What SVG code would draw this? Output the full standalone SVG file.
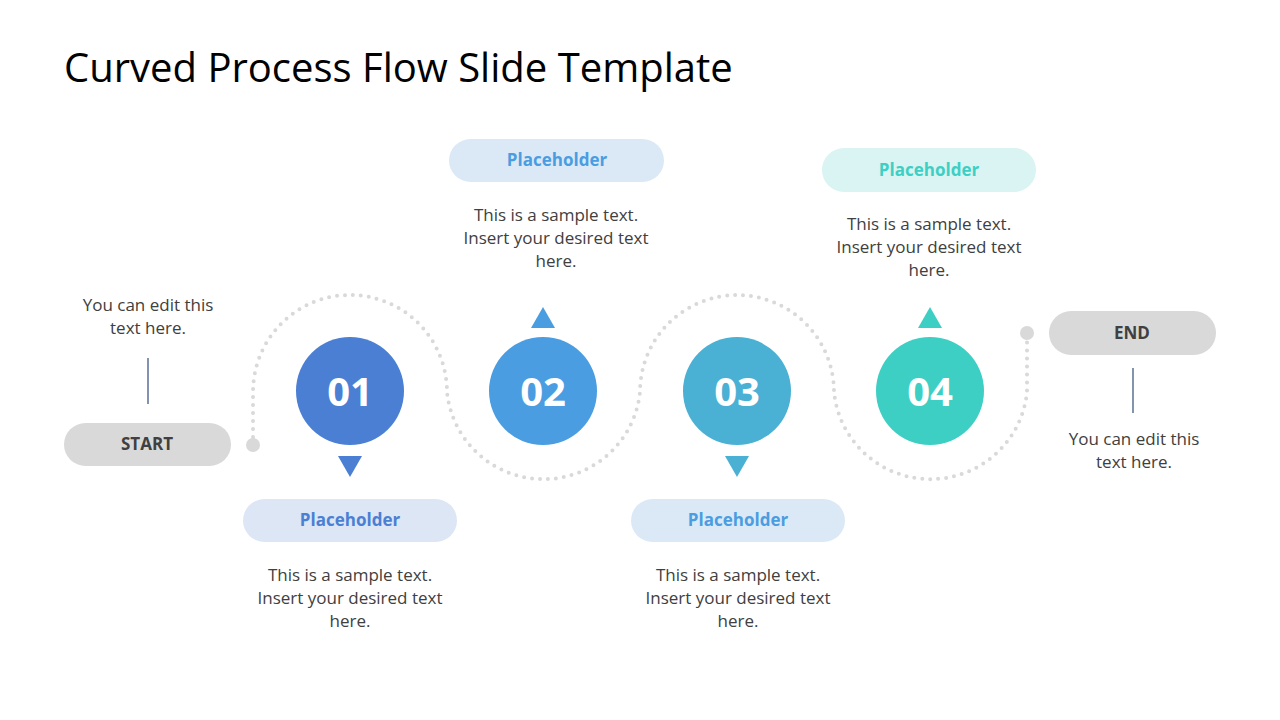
<svg xmlns="http://www.w3.org/2000/svg" width="1280" height="720" viewBox="0 0 1280 720">
<style>
.t{font-family:"Open Sans","Liberation Sans",sans-serif;font-size:17px;fill:#404040;text-anchor:middle}
.ph{font-family:"Open Sans","Liberation Sans",sans-serif;font-size:17px;font-weight:bold;text-anchor:middle}
.num{font-family:"Open Sans","Liberation Sans",sans-serif;font-size:40px;font-weight:bold;fill:#fff;text-anchor:middle}
.se{font-family:"Open Sans","Liberation Sans",sans-serif;font-size:17px;font-weight:bold;fill:#404040;text-anchor:middle}
</style>
<rect width="1280" height="720" fill="#fff"/>
<text x="64" y="82" font-family="Open Sans, Liberation Sans, sans-serif" font-size="40" fill="#000">Curved Process Flow Slide Template</text>
<g id="connectors">
<path d="M253,445 L253,392 A97,97 0 0 1 447,392 A97,97 0 0 0 640,392 A97,97 0 0 1 834,392 A97,97 0 0 0 1027,392 L1027,333" fill="none" stroke="#d9d9d9" stroke-width="4" stroke-linecap="round" stroke-dasharray="0 8"/>
<circle cx="253" cy="445" r="7" fill="#d9d9d9"/>
<circle cx="1027" cy="333" r="7" fill="#d9d9d9"/>
<line x1="148" y1="358" x2="148" y2="404" stroke="#2f4b7c" stroke-width="1.2"/>
<line x1="1133" y1="368" x2="1133" y2="413" stroke="#2f4b7c" stroke-width="1.2"/>
</g>
<g id="start">
<rect x="64" y="423" width="167" height="43" rx="21.5" fill="#d9d9d9"/>
<text class="se" x="147" y="450">START</text>
<text class="t" x="148" y="311">You can edit this</text>
<text class="t" x="148" y="334">text here.</text>
</g>
<g id="end">
<rect x="1049" y="311" width="167" height="44" rx="22" fill="#d9d9d9"/>
<text class="se" x="1132" y="339">END</text>
<text class="t" x="1134" y="445">You can edit this</text>
<text class="t" x="1134" y="468">text here.</text>
</g>
<g id="step1">
<circle cx="350" cy="391" r="54" fill="#4a7fd4"/>
<text class="num" x="350" y="406">01</text>
<path d="M338,456 L362,456 L350,477 Z" fill="#4a7fd4"/>
<rect x="243" y="499" width="214" height="43" rx="21.5" fill="#dce6f5"/>
<text class="ph" x="350" y="526" fill="#4a7fd4">Placeholder</text>
<text class="t" x="350" y="581">This is a sample text.</text>
<text class="t" x="350" y="604">Insert your desired text</text>
<text class="t" x="350" y="627">here.</text>
</g>
<g id="step2">
<circle cx="543" cy="391" r="54" fill="#4a9de0"/>
<text class="num" x="543" y="406">02</text>
<path d="M531,328 L555,328 L543,307 Z" fill="#4a9de0"/>
<rect x="449" y="139" width="215" height="43" rx="21.5" fill="#dbe9f7"/>
<text class="ph" x="557" y="166" fill="#4a9de0">Placeholder</text>
<text class="t" x="556" y="221">This is a sample text.</text>
<text class="t" x="556" y="244">Insert your desired text</text>
<text class="t" x="556" y="267">here.</text>
</g>
<g id="step3">
<circle cx="737" cy="391" r="54" fill="#4ab0d4"/>
<text class="num" x="737" y="406">03</text>
<path d="M725,456 L749,456 L737,477 Z" fill="#4ab0d4"/>
<rect x="631" y="499" width="214" height="43" rx="21.5" fill="#dbe9f7"/>
<text class="ph" x="738" y="526" fill="#4a9de0">Placeholder</text>
<text class="t" x="738" y="581">This is a sample text.</text>
<text class="t" x="738" y="604">Insert your desired text</text>
<text class="t" x="738" y="627">here.</text>
</g>
<g id="step4">
<circle cx="930" cy="391" r="54" fill="#3ecfc4"/>
<text class="num" x="930" y="406">04</text>
<path d="M918,328 L942,328 L930,307 Z" fill="#3ecfc4"/>
<rect x="822" y="148" width="214" height="44" rx="22" fill="#d9f4f2"/>
<text class="ph" x="929" y="176" fill="#3ecfc4">Placeholder</text>
<text class="t" x="929" y="230">This is a sample text.</text>
<text class="t" x="929" y="253">Insert your desired text</text>
<text class="t" x="929" y="276">here.</text>
</g>
</svg>
